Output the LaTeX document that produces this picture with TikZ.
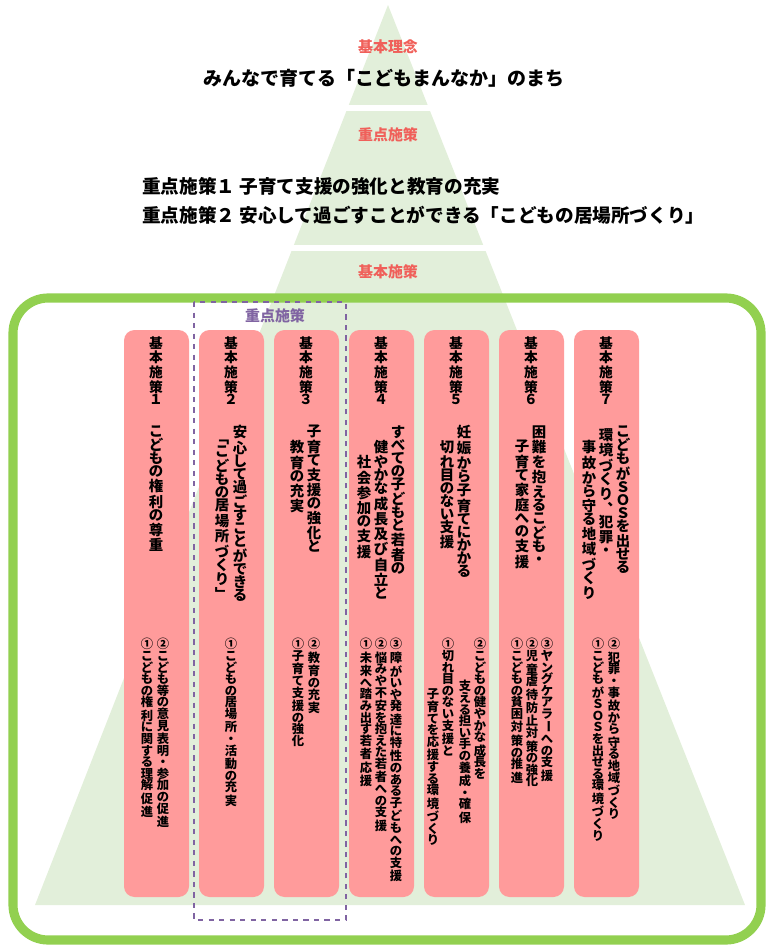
\documentclass[tikz,border=0pt]{standalone}
\usepackage{fontspec}
\usepackage{graphicx}
\setmainfont{Noto Sans CJK JP}
\definecolor{pyrgreen}{HTML}{E2EFDA}
\definecolor{framegreen}{HTML}{92D050}
\definecolor{boxpink}{HTML}{FF9B9B}
\definecolor{headred}{HTML}{F0605A}
\definecolor{keypurple}{HTML}{8064A2}
% vertical text: one glyph per line
\def\vtend{\vtend}
\def\vt#1{\vbox{\vtloop#1\vtend}}
\def\vtloop#1{\ifx#1\vtend\else\hbox to 1.1em{\hss#1\hss}\expandafter\vtloop\fi}
\def\vl{\rotatebox[origin=c]{-90}{ー}}
\tikzset{
  vcol/.style={anchor=north, inner sep=0pt},
  headf/.style={font=\fontsize{7.8pt}{6.8pt}\selectfont\bfseries},
  titlef/.style={font=\fontsize{8.2pt}{7.4pt}\selectfont\bfseries},
  itemf/.style={font=\fontsize{7pt}{6.6pt}\selectfont\bfseries},
  pinkbox/.style={fill=boxpink, rounded corners=6pt},
  redhead/.style={text=headred, font=\fontsize{8.5pt}{9pt}\selectfont\bfseries},
  bigline/.style={font=\fontsize{10.6pt}{12pt}\selectfont\bfseries},
}
\begin{document}
\begin{tikzpicture}[x=0.02cm, y=-0.02cm]
    \useasboundingbox (0,0) rectangle (774,950);
    %%pyramid
    \fill[pyrgreen] (388,5) -- (745,905) -- (35,905) -- cycle;
    \draw[white, line width=3pt] (0,108) -- (774,108) (0,248) -- (774,248);
    %%frame
    \draw[framegreen, line width=5.2pt, rounded corners=20pt] (13,298) rectangle (761,940);
    %%top texts
    \node[redhead] (idea) at (388,47) {基本理念};
    \node[font=\fontsize{10.8pt}{12pt}\selectfont\bfseries] (ideatext) at (384,78) {みんなで育てる「こどもまんなか」のまち};
    \node[redhead] (key) at (388,135) {重点施策};
    \node[anchor=west, bigline] (key1) at (136,186) {重点施策１\ 子育て支援の強化と教育の充実};
    \node[anchor=west, bigline] (key2) at (136,215) {重点施策２\ 安心して過ごすことができる「こどもの居場所づくり」};
    \node[redhead] (basic) at (388,272) {基本施策};
    %%boxes
    \foreach \i in {0,...,6}
        \fill[pinkbox] (124+75*\i,330) rectangle (189+75*\i,897);
    \foreach \i/\n in {0/１,1/２,2/３,3/４,4/５,5/６,6/７}
        \node[vcol, headf] (head\i) at (156+75*\i,336) {\vt{基本施策\n}};
    %%key dashed frame
    \draw[keypurple, dashed, thick] (194,302) rectangle (346,920);
    \node[text=keypurple, font=\fontsize{8.5pt}{9pt}\selectfont\bfseries] (keytag) at (275,316) {重点施策};
    %%titles
    \node[vcol, titlef] (t1) at (156,425) {\vt{こどもの権利の尊重}};
    \node[vcol, titlef] (t2a) at (240,425) {\vt{安心して過ごすことができる}};
    \node[vcol, titlef] (t2b) at (222,440) {\vt{﹁こどもの居場所づくり﹂}};
    \node[vcol, titlef] (t3a) at (314,425) {\vt{子育て支援の強化と}};
    \node[vcol, titlef] (t3b) at (297,440) {\vt{教育の充実}};
    \node[vcol, titlef] (t4a) at (398,425) {\vt{すべての子どもと若者の}};
    \node[vcol, titlef] (t4b) at (381,440) {\vt{健やかな成長及び自立と}};
    \node[vcol, titlef] (t4c) at (364,455) {\vt{社会参加の支援}};
    \node[vcol, titlef] (t5a) at (464,425) {\vt{妊娠から子育てにかかる}};
    \node[vcol, titlef] (t5b) at (447,440) {\vt{切れ目のない支援}};
    \node[vcol, titlef] (t6a) at (539,425) {\vt{困難を抱えるこども・}};
    \node[vcol, titlef] (t6b) at (522,440) {\vt{子育て家庭への支援}};
    \node[vcol, titlef] (t7a) at (623,425) {\vt{こどもがＳＯＳを出せる}};
    \node[vcol, titlef] (t7b) at (606,428) {\vt{環境づくり︑犯罪・}};
    \node[vcol, titlef] (t7c) at (589,440) {\vt{事故から守る地域づくり}};
    %%items
    \node[vcol, itemf] (i1b) at (163,638) {\vt{②こども等の意見表明・参加の促進}};
    \node[vcol, itemf] (i1a) at (147,638) {\vt{①こどもの権利に関する理解促進}};
    \node[vcol, itemf] (i2a) at (231,638) {\vt{①こどもの居場所・活動の充実}};
    \node[vcol, itemf] (i3b) at (314,638) {\vt{②教育の充実}};
    \node[vcol, itemf] (i3a) at (298,638) {\vt{①子育て支援の強化}};
    \node[vcol, itemf] (i4c) at (396,638) {\vt{③障がいや発達に特性のある子どもへの支援}};
    \node[vcol, itemf] (i4b) at (381,638) {\vt{②悩みや不安を抱えた若者への支援}};
    \node[vcol, itemf] (i4a) at (366,638) {\vt{①未来へ踏み出す若者応援}};
    \node[vcol, itemf] (i5b) at (480,638) {\vt{②こどもの健やかな成長を}};
    \node[vcol, itemf] (i5bb) at (465,680) {\vt{支える担い手の養成・確保}};
    \node[vcol, itemf] (i5a) at (448,638) {\vt{①切れ目のない支援と}};
    \node[vcol, itemf] (i5aa) at (433,688) {\vt{子育てを応援する環境づくり}};
    \node[vcol, itemf] (i6c) at (547,638) {\vt{③ヤングケアラ\vl への支援}};
    \node[vcol, itemf] (i6b) at (532,638) {\vt{②児童虐待防止対策の強化}};
    \node[vcol, itemf] (i6a) at (517,638) {\vt{①こどもの貧困対策の推進}};
    \node[vcol, itemf] (i7b) at (614,638) {\vt{②犯罪・事故から守る地域づくり}};
    \node[vcol, itemf] (i7a) at (598,638) {\vt{①こどもがＳＯＳを出せる環境づくり}};
\end{tikzpicture}
\end{document}
